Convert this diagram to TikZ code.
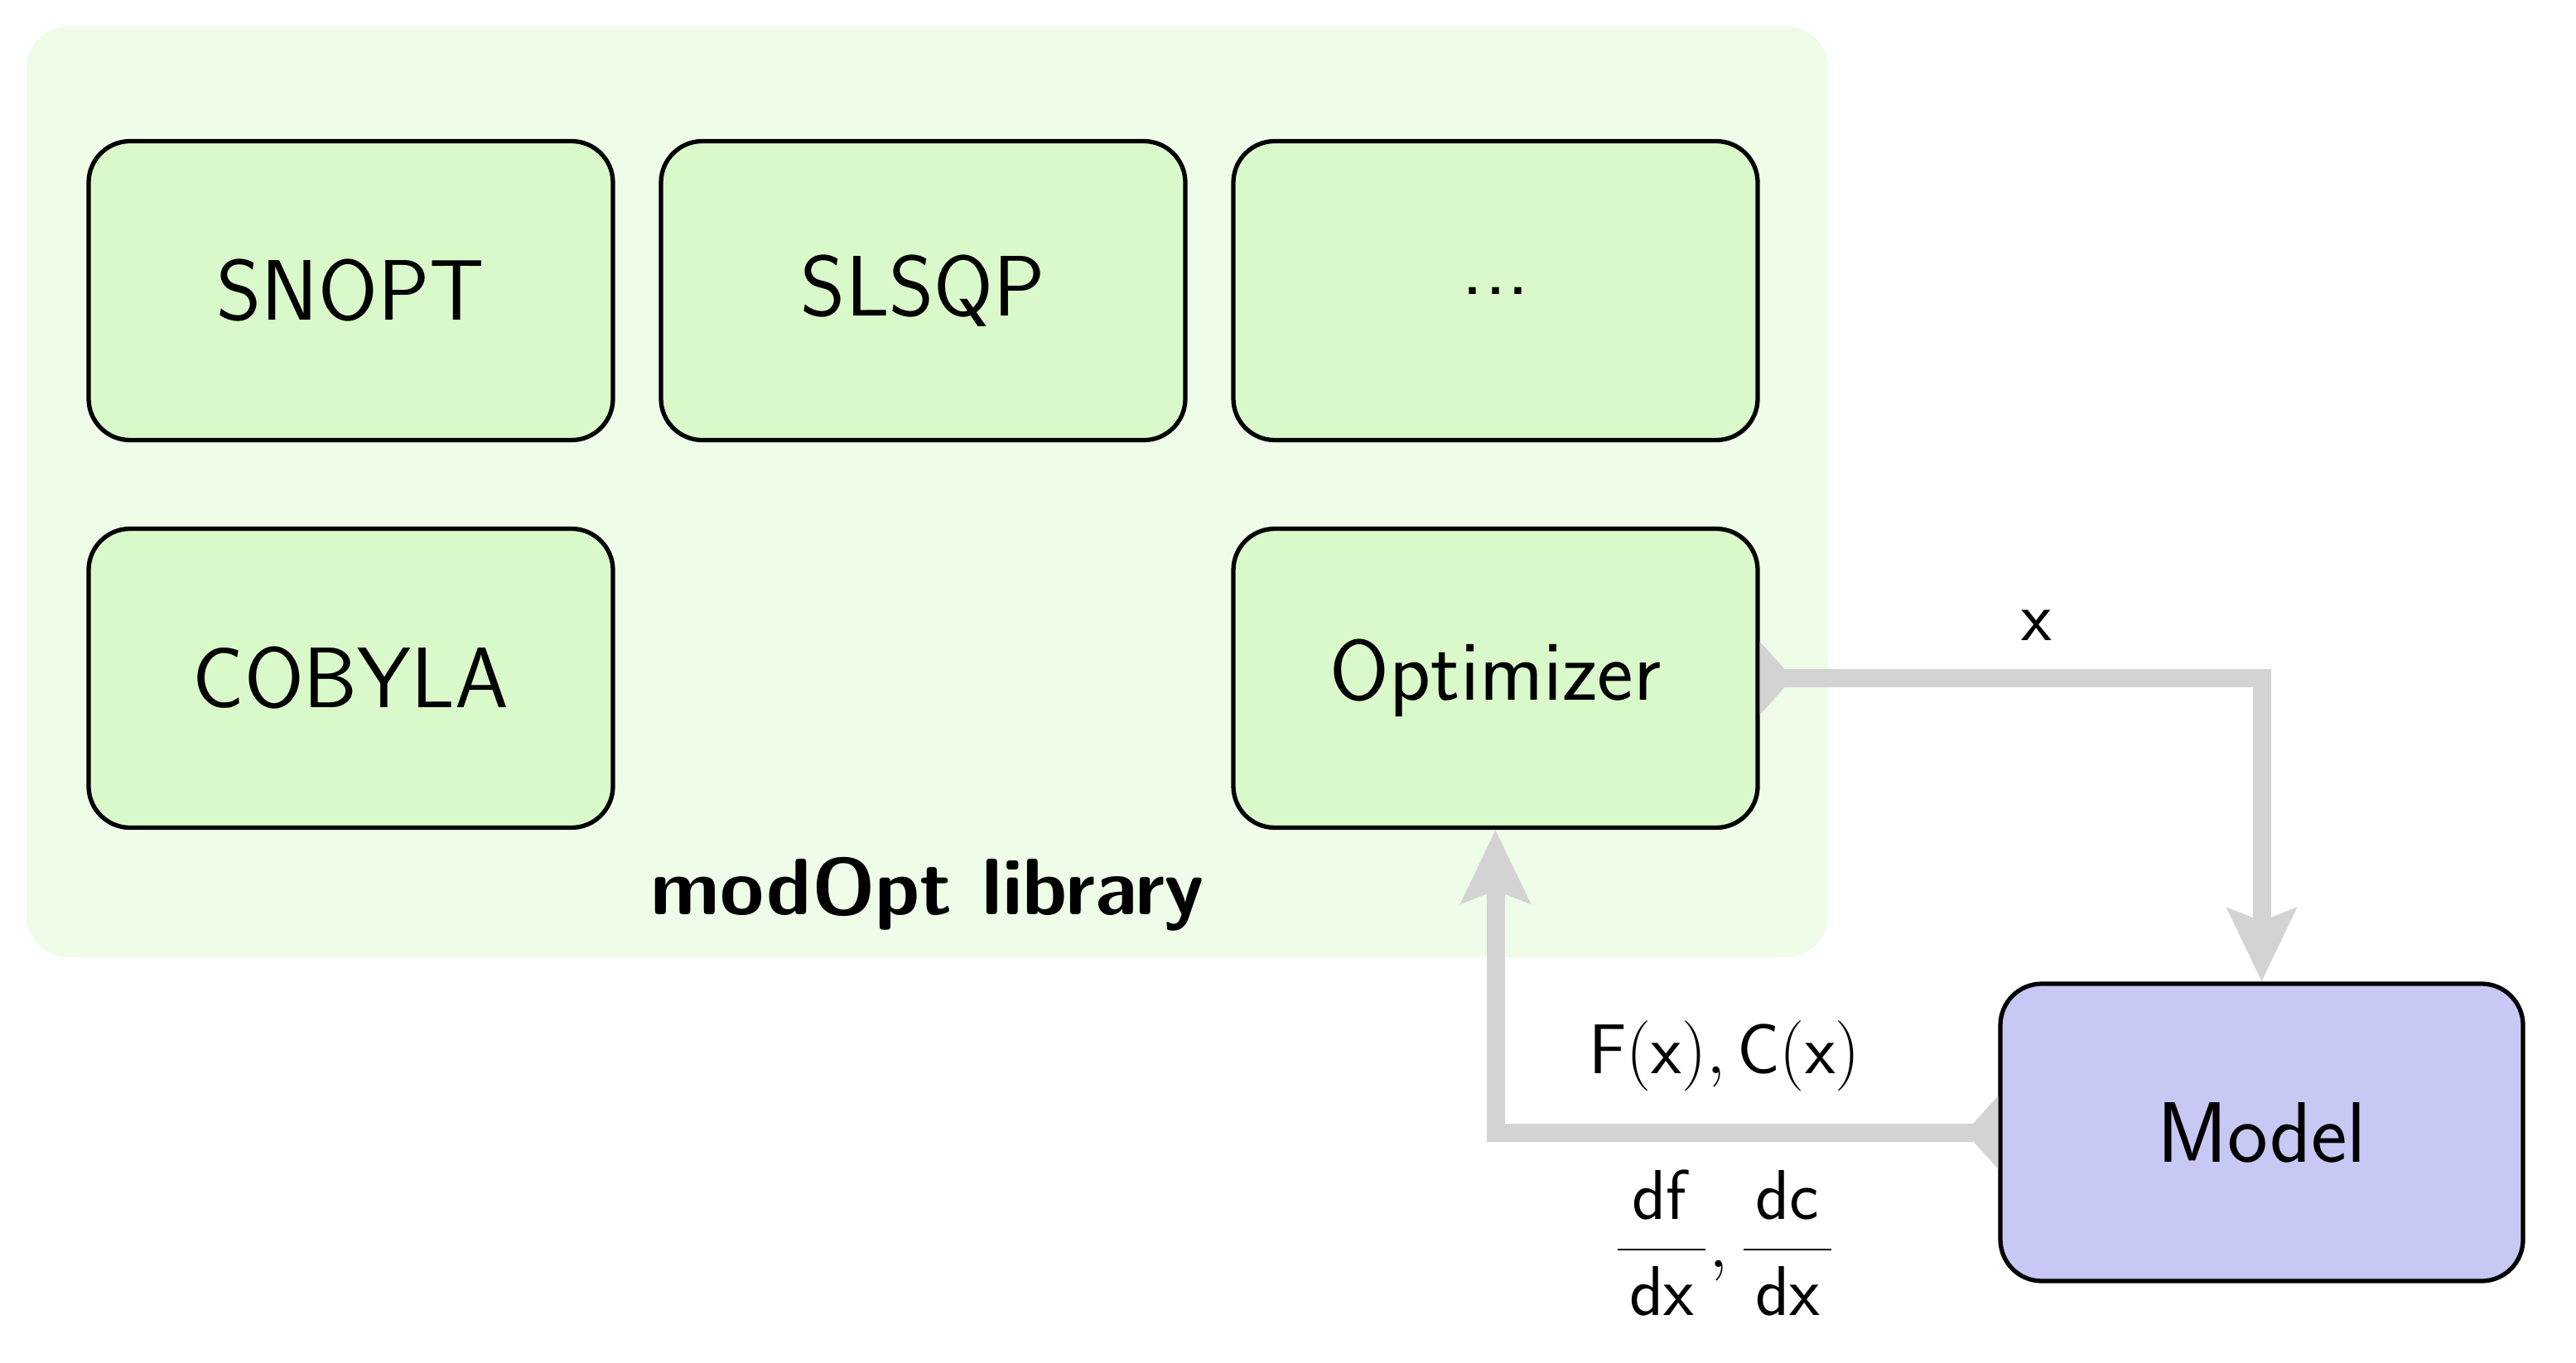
\documentclass[tikz,border=0pt]{standalone}
\usepackage{fix-cm}
\usetikzlibrary{arrows.meta}
\definecolor{bgG}{RGB}{238,252,232}
\definecolor{boxG}{RGB}{217,249,202}
\definecolor{boxB}{RGB}{200,200,245}
\definecolor{flow}{RGB}{211,211,211}
\tikzset{
  optbox/.style={draw=black, line width=1.5pt, rounded corners=0.5cm, fill=boxG,
    minimum width=6.33cm, minimum height=3.61cm, inner sep=0pt,
    font=\sffamily\fontsize{29.5}{34}\selectfont},
  modelbox/.style={optbox, fill=boxB},
  flowline/.style={draw=flow, line width=0.22cm,
    {Triangle[reversed,length=0.4cm,width=0.86cm]}-{Stealth[length=0.88cm,width=0.82cm,inset=0.15cm]}},
  flowlabel/.style={font=\sffamily\fontsize{24.2}{28}\selectfont, inner sep=0pt}
}
\begin{document}
\begin{tikzpicture}
\useasboundingbox (0,0) rectangle (31.10,-16.46);
\fill[bgG, rounded corners=0.5cm] (0.32,-0.32) rectangle (22.07,-11.56);
\node[optbox] (snopt) at (4.235,-3.51) {SNOPT};
\node[optbox] (slsqp) at (11.145,-3.51) {SLSQP};
\node[optbox] (dots) at (18.055,-3.51) {...};
\node[optbox] (cobyla) at (4.235,-8.19) {COBYLA};
\node[optbox] (opt) at (18.055,-8.19) {Optimizer};
\node[font=\sffamily\bfseries\fontsize{27.5}{31}\selectfont, inner sep=0pt] (lib) at (11.20,-10.80) {modOpt library};
\node[modelbox, minimum height=3.59cm, minimum width=6.31cm] (model) at (27.305,-13.675) {Model};
\draw[flowline] (opt.east) -| (model.north);
\draw[flowline] (model.west) -| (opt.south);
\node[flowlabel] (lx) at (24.59,-7.55) {x};
\node[flowlabel] (lf) at (20.82,-12.75) {$\mathsf{F}(\mathsf{x}),\mathsf{C}(\mathsf{x})$};
\node[flowlabel] (ld) at (20.82,-15.01) {$\displaystyle\frac{\,\mathsf{df}\,}{\,\mathsf{dx}\,},\frac{\,\mathsf{dc}\,}{\,\mathsf{dx}\,}$};
\end{tikzpicture}
\end{document}
